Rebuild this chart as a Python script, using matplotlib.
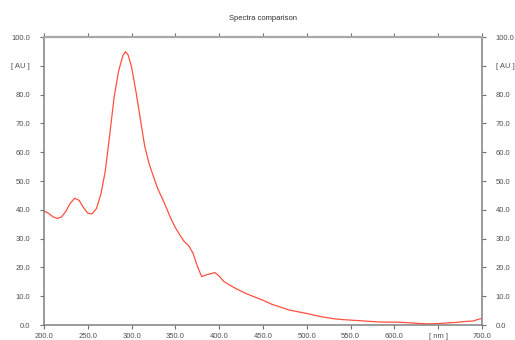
import numpy as np
import matplotlib
matplotlib.use("Agg")
import matplotlib.pyplot as plt

# spectrum
wavelength = [200, 205, 210, 215, 220, 225, 230, 235, 240, 245, 250, 255, 260, 265,
              270, 275, 280, 285, 290, 293, 296, 300, 305, 310, 315, 320, 325, 330,
              335, 340, 345, 350, 355, 360, 365, 370, 375, 380, 385, 390, 395, 400,
              405, 410, 420, 430, 440, 450, 460, 470, 480, 490, 500, 510, 520, 530,
              540, 550, 560, 570, 580, 590, 600, 610, 620, 630, 640, 650, 660, 670,
              680, 690, 695, 700]
absorbance = [39.6, 38.8, 37.6, 37.0, 37.5, 39.5, 42.3, 44.0, 43.3, 40.8, 38.8, 38.6, 40.5, 45.5,
              53.5, 66.0, 79.0, 88.0, 93.5, 94.9, 93.8, 89.5, 81.0, 71.5, 62.0, 56.0, 51.5, 47.2,
              44.0, 40.5, 36.8, 33.8, 31.3, 29.0, 27.6, 25.0, 20.5, 16.8, 17.4, 17.8, 18.2, 17.0,
              15.2, 14.2, 12.5, 11.0, 9.8, 8.6, 7.2, 6.2, 5.2, 4.6, 4.0, 3.3, 2.7, 2.2,
              1.9, 1.7, 1.5, 1.3, 1.1, 1.0, 1.0, 0.9, 0.7, 0.5, 0.4, 0.5, 0.7, 0.9,
              1.2, 1.4, 1.9, 2.3]

x_ticks = [200, 250, 300, 350, 400, 450, 500, 550, 600, 650, 700]
x_labels = ["200.0", "250.0", "300.0", "350.0", "400.0", "450.0", "500.0", "550.0", "600.0", "[ nm ]", "700.0"]
y_ticks = [0, 10, 20, 30, 40, 50, 60, 70, 80, 90, 100]
y_labels = ["0.0", "10.0", "20.0", "30.0", "40.0", "50.0", "60.0", "70.0", "80.0", "[ AU ]", "100.0"]

plt.rcParams['font.family'] = ['Liberation Sans', 'DejaVu Sans']

fig = plt.figure(figsize=(5.15, 3.4), dpi=100)
ax = fig.add_axes([44/515, 15/340, 438/515, 288/340])

ax.plot(wavelength, absorbance, color='#ff5040', lw=0.9)

ax.set_xlim(200, 700)
ax.set_ylim(0, 100)
ax.set_xticks(x_ticks)
ax.set_xticklabels(x_labels)
ax.set_yticks(y_ticks)
ax.set_yticklabels(y_labels)

ax.tick_params(axis='both', direction='out', length=3, width=0.8, color='#707070',
               labelsize=5.5, labelcolor='#505050', top=True, right=True,
               labelright=True, labeltop=False)
ax.tick_params(axis='y', pad=7)
ax.tick_params(axis='x', pad=3)

for side in ['left', 'right', 'bottom']:
    ax.spines[side].set_color('#808080')
    ax.spines[side].set_linewidth(1.1)
ax.spines['top'].set_color('#a8a8a8')
ax.spines['top'].set_linewidth(1.6)

fig.text(263/515, 1 - 18/340, "Spectra comparison", ha='center', va='center',
         fontsize=5.5, color='#303030')

fig.savefig("out.png", dpi=100)
